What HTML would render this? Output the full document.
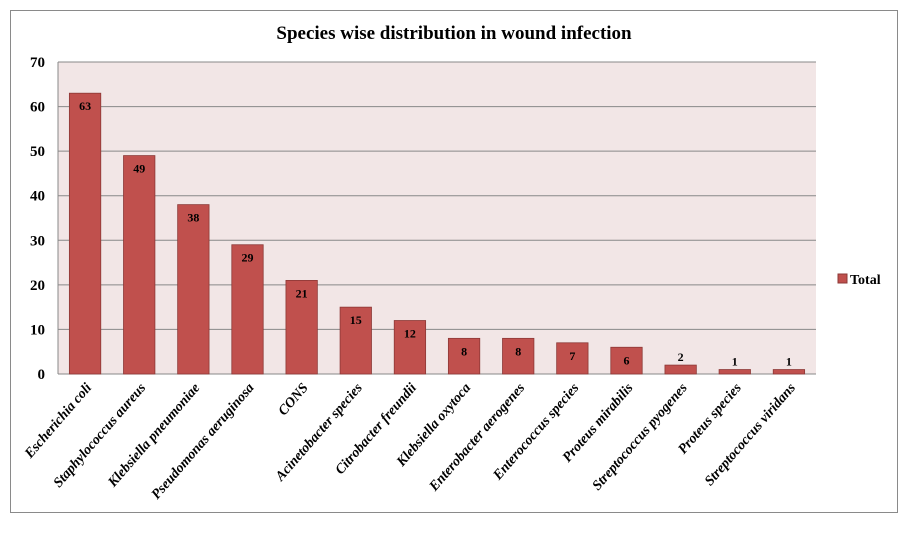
<!DOCTYPE html>
<html><head><meta charset="utf-8"><style>
body{margin:0;background:#fff;}
svg{display:block;font-family:"Liberation Serif",serif;}
</style></head><body>
<svg id="c" width="908" height="534">
<rect x="10.5" y="10.5" width="887" height="502" fill="#fff" stroke="#8a8a8a"/>
<text x="454" y="39" text-anchor="middle" font-size="19" font-weight="bold">Species wise distribution in wound infection</text>
<rect x="58" y="62" width="758" height="312" fill="#f2e6e6"/>
<g id="grid"></g><g id="bars"></g><g id="xl"></g><g id="yl"></g>
<line x1="58" y1="62" x2="58" y2="374" stroke="#888"/>
<rect x="838" y="274" width="9" height="9" fill="#c0504d" stroke="#8c3836"/>
<text x="850" y="284" font-size="14" font-weight="bold">Total</text>
</svg>
<script>
const categories=["Escherichia coli","Staphylococcus aureus","Klebsiella pneumoniae","Pseudomonas aeruginosa","CONS","Acinetobacter species","Citrobacter freundii","Klebsiella oxytoca","Enterobacter aerogenes","Enterococcus species","Proteus mirabilis","Streptococcus pyogenes","Proteus species","Streptococcus viridans"];
const values=[63,49,38,29,21,15,12,8,8,7,6,2,1,1];
const ticks=[0,10,20,30,40,50,60,70];
const NS="http://www.w3.org/2000/svg";
const L=58,R=816,T=62,B=374,MAX=70;
const y=v=>B-(v/MAX)*(B-T);
const slot=(R-L)/categories.length;
const xc=i=>L+slot*(i+0.5);
function mk(t,a,p){const e=document.createElementNS(NS,t);for(const k in a)e.setAttribute(k,a[k]);document.getElementById(p).appendChild(e);return e;}
ticks.forEach(t=>{
 const ln=mk("line",{x1:L,x2:R,y1:y(t),y2:y(t),stroke:"#888"},"grid");
 
 
 const tx=mk("text",{x:45,y:y(t)+5,"text-anchor":"end","font-size":"15","font-weight":"bold"},"yl");
 tx.textContent=t;
 
 
});
const bw=slot*0.58;
values.forEach((v,i)=>{
 const r=mk("rect",{x:xc(i)-bw/2,y:y(v),width:bw,height:B-y(v),fill:"#c0504d",stroke:"#8c3836","stroke-width":"0.8"},"bars");
 
 
 const inside=(B-y(v))>20;
 const t=mk("text",{x:xc(i),y:inside?y(v)+17:y(v)-4,"text-anchor":"middle","font-size":"12","font-weight":"bold"},"bars");
 t.textContent=v;
 
 
 const xl=mk("text",{x:0,y:0,"text-anchor":"end","font-size":"14","font-weight":"bold","font-style":"italic",transform:`translate(${xc(i)+7},${B+14}) rotate(-49)`},"xl");
 xl.textContent=categories[i];
 
 
});
</script>
</body></html>
